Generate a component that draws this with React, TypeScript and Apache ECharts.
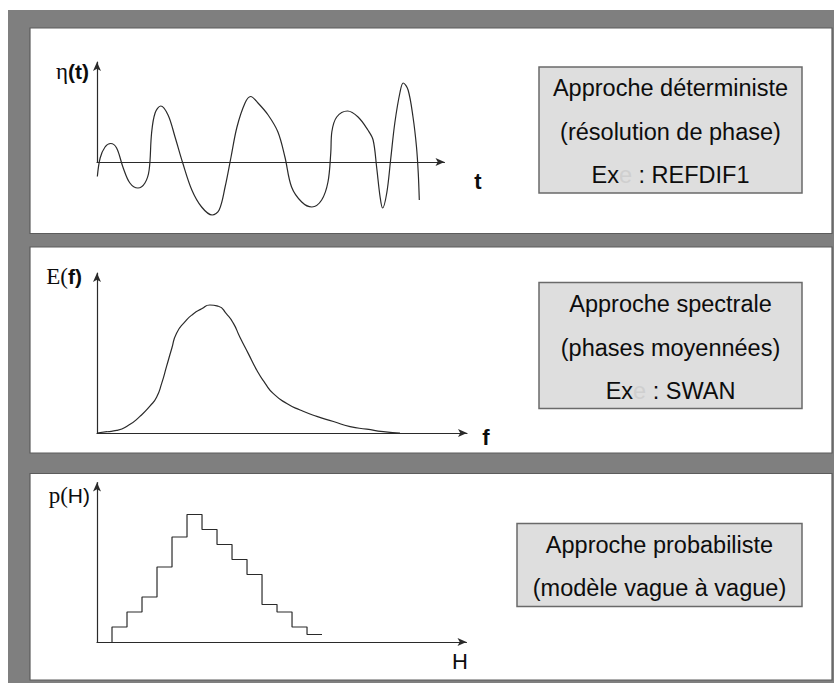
import React, { useEffect, useRef } from "react";
import * as echarts from "echarts";

// ---------- Panel 1 : surface elevation η(t) (irregular wave record) ----------
const etaTime = [
  0.01, 0.09, 0.23, 0.39, 0.56, 0.74, 0.94, 1.17, 1.37, 1.49, 1.56, 1.66, 1.82, 2.03,
  2.23, 2.45, 2.71, 2.99, 3.29, 3.49, 3.66, 3.83, 4.0, 4.23, 4.39, 4.6, 4.89, 5.17,
  5.37, 5.56, 5.85, 6.14, 6.42, 6.6, 6.68, 6.71, 6.85, 7.16, 7.46, 7.74, 7.89, 7.99,
  8.09, 8.16, 8.28, 8.39, 8.51, 8.66, 8.75, 8.89, 9.03, 9.13, 9.18, 9.21,
];
const etaValue = [
  -0.29, 0.08, 0.3, 0.37, 0.28, -0.1, -0.42, -0.52, -0.42, -0.16, 0.58, 0.98, 1.12, 0.94,
  0.5, -0.02, -0.56, -0.9, -1.06, -0.96, -0.5, 0.1, 0.7, 1.18, 1.31, 1.18, 0.94, 0.6,
  0.1, -0.5, -0.8, -0.9, -0.76, -0.4, 0.18, 0.6, 0.9, 1.02, 0.9, 0.64, 0.44, -0.1,
  -0.7, -0.92, -0.62, 0.04, 0.78, 1.4, 1.58, 1.44, 0.9, 0.3, -0.22, -0.76,
];

// ---------- Panel 2 : energy spectrum E(f) ----------
const specFreq = [
  0, 0.27, 0.53, 0.85, 1.16, 1.43, 1.61, 1.75, 1.88, 2.02, 2.15, 2.38, 2.6, 2.83, 3.05,
  3.28, 3.5, 3.68, 3.86, 4.09, 4.32, 4.54, 4.76, 5.13, 5.49, 5.94, 6.39, 6.84, 7.29,
  7.74, 8.19,
];
const specEnergy = [
  0, 0.01, 0.02, 0.06, 0.13, 0.21, 0.28, 0.39, 0.52, 0.66, 0.78, 0.87, 0.93, 0.97, 1.0,
  0.99, 0.93, 0.86, 0.75, 0.62, 0.49, 0.39, 0.31, 0.23, 0.18, 0.13, 0.09, 0.05, 0.03,
  0.01, 0,
];

// ---------- Panel 3 : wave-height histogram p(H) ----------
const histBinStart = [1, 2, 3, 4, 5, 6, 7, 8, 9, 10, 11, 12, 13, 14];
const histCount = [2, 4, 6, 10, 14, 17, 15, 13, 11, 9, 5, 4, 2, 1];
const histBinWidth = 1;

// ---------- Texts ----------
const box1Lines = ["Approche déterministe", "(résolution de phase)"];
const box1Model = "REFDIF1";
const box2Lines = ["Approche spectrale", "(phases moyennées)"];
const box2Model = "SWAN";
const box3Lines = ["Approche probabiliste", "(modèle vague à vague)"];

const SANS = '"Liberation Sans", Arial, sans-serif';
const SERIF = '"Liberation Serif", "Times New Roman", serif';
const INK = "#0d0d0d";
const LINE = "#2a2a2a";

export default function App() {
  const ref = useRef<HTMLDivElement>(null);

  useEffect(() => {
    if (!ref.current) return;
    const chart = echarts.init(ref.current, undefined, { renderer: "svg" });

    const axisBase = (extra: any) => ({
      type: "value",
      axisTick: { show: false },
      axisLabel: { show: false },
      splitLine: { show: false },
      axisLine: {
        show: true,
        onZero: false,
        symbol: ["none", "arrow"],
        symbolSize: [6, 9],
        lineStyle: { color: LINE, width: 1.2 },
      },
      ...extra,
    });

    const panelRect = (y: number, h: number) => ({
      type: "rect",
      z: -5,
      shape: { x: 30, y, width: 802, height: h },
      style: { fill: "#ffffff", stroke: "#5c5c5c", lineWidth: 1.2 },
      silent: true,
    });

    const boxRect = (x: number, y: number, w: number, h: number) => ({
      type: "rect",
      z: 1,
      shape: { x, y, width: w, height: h },
      style: { fill: "#dedede", stroke: "#6a6a6a", lineWidth: 1.5 },
      silent: true,
    });

    const boxText = (text: string, x: number, y: number) => ({
      type: "text",
      z: 2,
      x,
      y,
      style: {
        text,
        fill: INK,
        fontFamily: SANS,
        fontSize: 23.5,
        align: "center",
        verticalAlign: "middle",
      },
      silent: true,
    });

    const exText = (model: string, x: number, y: number) => ({
      type: "text",
      z: 2,
      x,
      y,
      style: {
        text: `{d|Ex}{f|e}{d| : ${model}}`,
        fill: INK,
        fontFamily: SANS,
        fontSize: 23.5,
        align: "center",
        verticalAlign: "middle",
        rich: {
          d: { fill: INK, fontFamily: SANS, fontSize: 23.5 },
          f: { fill: "#cfcfcf", fontFamily: SANS, fontSize: 23.5 },
        },
      },
      silent: true,
    });

    const axisTitle = (serifPart: string, sansPart: string, x: number, y: number, bold: boolean) => ({
      type: "text",
      z: 2,
      x,
      y,
      style: {
        text: `{s|${serifPart}}{a|${sansPart}}`,
        align: "right",
        verticalAlign: "middle",
        rich: {
          s: { fill: INK, fontFamily: SERIF, fontSize: 23 },
          a: { fill: INK, fontFamily: SANS, fontSize: 21, fontWeight: bold ? "bold" : "normal" },
        },
      },
      silent: true,
    });

    const axisLetter = (t: string, x: number, y: number, bold: boolean) => ({
      type: "text",
      z: 2,
      x,
      y,
      style: {
        text: t,
        fill: INK,
        fontFamily: SANS,
        fontSize: 22,
        fontWeight: bold ? "bold" : "normal",
        align: "center",
        verticalAlign: "middle",
      },
      silent: true,
    });

    const histData: number[][] = [[histBinStart[0], 0]];
    histBinStart.forEach((h, i) => histData.push([h + histBinWidth, histCount[i]]));

    const option: any = {
      animation: false,
      backgroundColor: "#ffffff",
      grid: [
        { left: 97, top: 62, width: 347.5, height: 100 },
        { left: 97, top: 273, width: 370, height: 160 },
        { left: 97, top: 482.5, width: 369.5, height: 159.5 },
      ],
      xAxis: [
        axisBase({ gridIndex: 0, min: 0, max: 9.93 }),
        axisBase({ gridIndex: 1, min: 0, max: 10 }),
        axisBase({ gridIndex: 2, min: 0, max: 24.63 }),
      ],
      yAxis: [
        axisBase({ gridIndex: 0, min: 0, max: 2 }),
        axisBase({ gridIndex: 1, min: 0, max: 1.25 }),
        axisBase({ gridIndex: 2, min: 0, max: 21.27 }),
      ],
      series: [
        {
          type: "line",
          xAxisIndex: 0,
          yAxisIndex: 0,
          data: etaTime.map((t, i) => [t, etaValue[i]]),
          smooth: 0.35,
          clip: false,
          showSymbol: false,
          lineStyle: { color: LINE, width: 1.2 },
          silent: true,
        },
        {
          type: "line",
          xAxisIndex: 1,
          yAxisIndex: 1,
          data: specFreq.map((f, i) => [f, specEnergy[i]]),
          smooth: 0.6,
          showSymbol: false,
          lineStyle: { color: LINE, width: 1.2 },
          silent: true,
        },
        {
          type: "line",
          xAxisIndex: 2,
          yAxisIndex: 2,
          data: histData,
          step: "start",
          showSymbol: false,
          lineStyle: { color: LINE, width: 1.2 },
          silent: true,
        },
      ],
      graphic: [
        {
          type: "rect",
          z: -10,
          shape: { x: 8, y: 10, width: 826, height: 673 },
          style: { fill: "#7f7f7f" },
          silent: true,
        },
        panelRect(28, 205.5),
        panelRect(247, 206),
        panelRect(473.5, 206.5),

        boxRect(539, 67, 263, 126),
        boxText(box1Lines[0], 670.5, 88),
        boxText(box1Lines[1], 670.5, 131.5),
        exText(box1Model, 670.5, 175),

        boxRect(539, 282.5, 263, 126),
        boxText(box2Lines[0], 670.5, 304),
        boxText(box2Lines[1], 670.5, 347.5),
        exText(box2Model, 670.5, 390.5),

        boxRect(517, 523.5, 285, 83),
        boxText(box3Lines[0], 659.5, 545),
        boxText(box3Lines[1], 659.5, 588),

        axisTitle("η", "(t)", 89, 71, true),
        axisLetter("t", 478, 181, true),
        axisTitle("E(", "f)", 82, 276, true),
        axisLetter("f", 486, 437, true),
        axisTitle("p(", "H)", 90, 495, false),
        axisLetter("H", 460, 661, false),
      ],
    };

    chart.setOption(option);
    return () => chart.dispose();
  }, []);

  return (
    <div
      ref={ref}
      style={{ position: "fixed", left: 0, top: 0, width: 834, height: 683 }}
    />
  );
}
